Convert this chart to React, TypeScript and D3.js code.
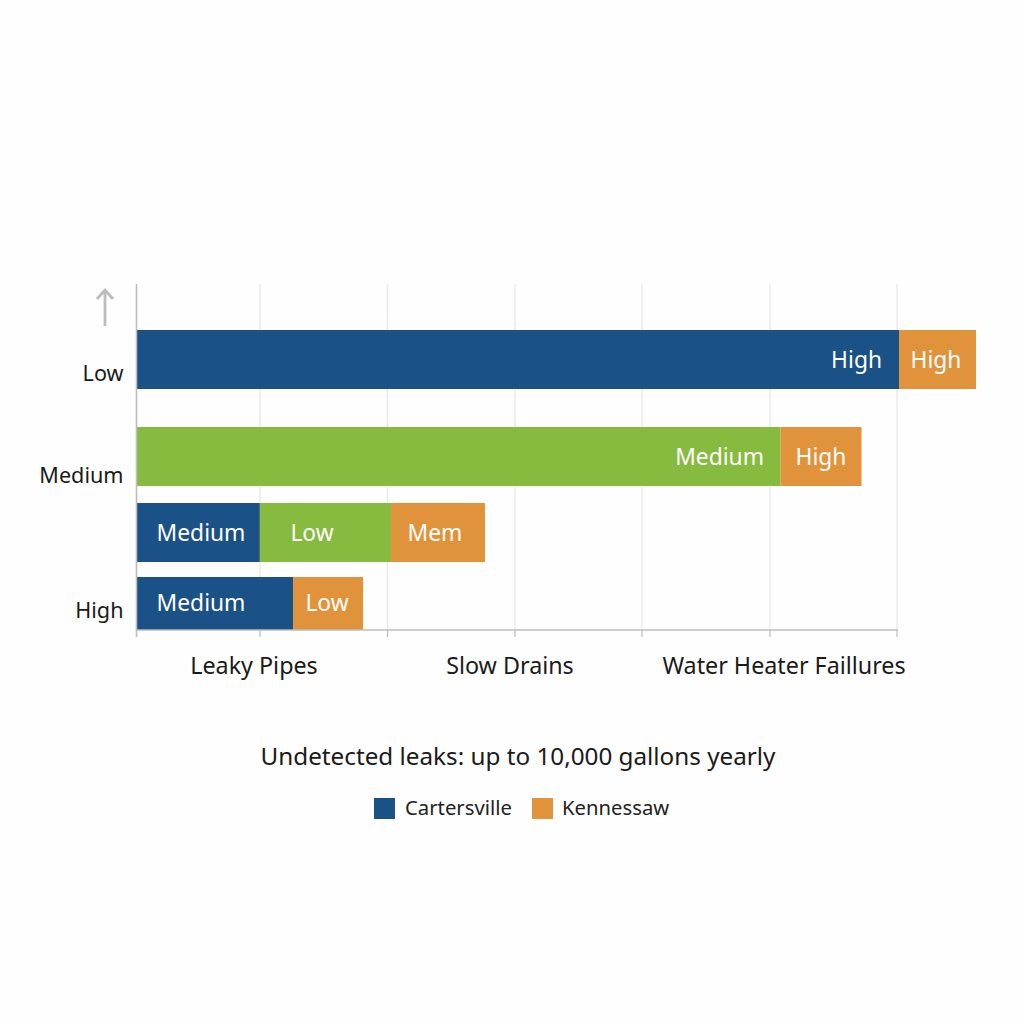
import React from "react";
import * as d3 from "d3";

const rows = ["r1", "r2", "r3", "r4"];
const colors = { blue: "#1a5186", green: "#86bb3f", orange: "#e1933b" };
const row1Widths = [6.016, 0.608];
const row2Widths = [5.08, 0.64];
const row3Widths = [0.97, 1.035, 0.742];
const row4Widths = [1.232, 0.553];
const row1Colors = ["blue", "orange"];
const row2Colors = ["green", "orange"];
const row3Colors = ["blue", "green", "orange"];
const row4Colors = ["blue", "orange"];
const row1Labels = ["High", "High"];
const row2Labels = ["Medium", "High"];
const row3Labels = ["Medium", "Low", "Mem"];
const row4Labels = ["Medium", "Low"];
const yTickLabels = ["Low", "Medium", "High"];
const xTickValues = [0, 1, 2, 3, 4, 5, 6];
const xLabels = ["Leaky Pipes", "Slow Drains", "Water Heater Faillures"];
const legendNames = ["Cartersville", "Kennessaw"];
const title = "Undetected leaks: up to 10,000 gallons yearly";

const FONT = "'Noto Sans', sans-serif";
const x = d3.scaleLinear().domain([0, 6]).range([137, 897]);
const rowTop = [330, 427, 503, 577];
const rowH = [59, 59, 59, 53];
const widths = [row1Widths, row2Widths, row3Widths, row4Widths];
const cols = [row1Colors, row2Colors, row3Colors, row4Colors];
const labels = [row1Labels, row2Labels, row3Labels, row4Labels];
const gridX = [137, 260, 387.5, 515, 642, 770, 897];
const yLabelY = [373, 475, 610];
const xLabelX = [254, 510, 784];
const labelPos = [
  [{ a: "end", px: 882 }, { a: "middle", px: 936 }],
  [{ a: "end", px: 764 }, { a: "middle", px: 821 }],
  [{ a: "middle", px: 201 }, { a: "middle", px: 312 }, { a: "middle", px: 435 }],
  [{ a: "middle", px: 201 }, { a: "middle", px: 327 }],
];
const labelY = [360, 457, 533, 603];

export default function App() {
  return (
    <svg width={1024} height={1024} viewBox="0 0 1024 1024"
      style={{ position: "absolute", left: 0, top: 0, background: "#fefefe" }}>
      {xTickValues.slice(1).map((v, i) => (
        <g key={v}>
          <line x1={gridX[i + 1]} x2={gridX[i + 1]} y1={284} y2={630} stroke="#e8e8e8" strokeWidth={1.4} />
          <line x1={gridX[i + 1]} x2={gridX[i + 1]} y1={630} y2={637} stroke="#bdbdbd" strokeWidth={1.2} />
        </g>
      ))}
      {rows.map((r, ri) => {
        const stack = d3.cumsum(widths[ri]);
        return (
          <g key={r}>
            {widths[ri].map((w, i) => {
              const x0 = x(i === 0 ? 0 : stack[i - 1]);
              const x1 = x(stack[i]);
              return (
                <rect key={i} x={x0} y={rowTop[ri]} width={x1 - x0} height={rowH[ri]}
                  fill={colors[cols[ri][i] as keyof typeof colors]} />
              );
            })}
            {labels[ri].map((t, i) => (
              <text key={i} x={labelPos[ri][i].px} y={labelY[ri]} dy="0.35em"
                textAnchor={labelPos[ri][i].a as any} fontFamily={FONT} fontSize={22.8} fill="#fff">{t}</text>
            ))}
          </g>
        );
      })}
      <line x1={136.5} x2={136.5} y1={284} y2={637} stroke="#bdbdbd" strokeWidth={1.6} />
      <line x1={136} x2={898} y1={630} y2={630} stroke="#bdbdbd" strokeWidth={1.6} />
      <path d="M105 326V290M97 299L105 290L113 299" fill="none" stroke="#bcbcbc" strokeWidth={2.8} />
      {yTickLabels.map((t, i) => (
        <text key={t} x={123.5} y={yLabelY[i]} dy="0.35em" textAnchor="end" fontFamily={FONT} fontSize={21.6} fill="#1a1a1a">{t}</text>
      ))}
      {xLabels.map((t, i) => (
        <text key={t} x={xLabelX[i]} y={666} dy="0.35em" textAnchor="middle" fontFamily={FONT} fontSize={23.3} fill="#1a1a1a">{t}</text>
      ))}
      <text x={518} y={757} dy="0.35em" textAnchor="middle" fontFamily={FONT} fontSize={24.25} fill="#1a1a1a">{title}</text>
      {legendNames.map((n, i) => {
        const sx = [374, 532][i];
        return (
          <g key={n}>
            <rect x={sx} y={798} width={21} height={21} fill={i === 0 ? colors.blue : colors.orange} />
            <text x={[405, 562][i]} y={808} dy="0.35em" fontFamily={FONT} fontSize={20.3} fill="#222">{n}</text>
          </g>
        );
      })}
    </svg>
  );
}
